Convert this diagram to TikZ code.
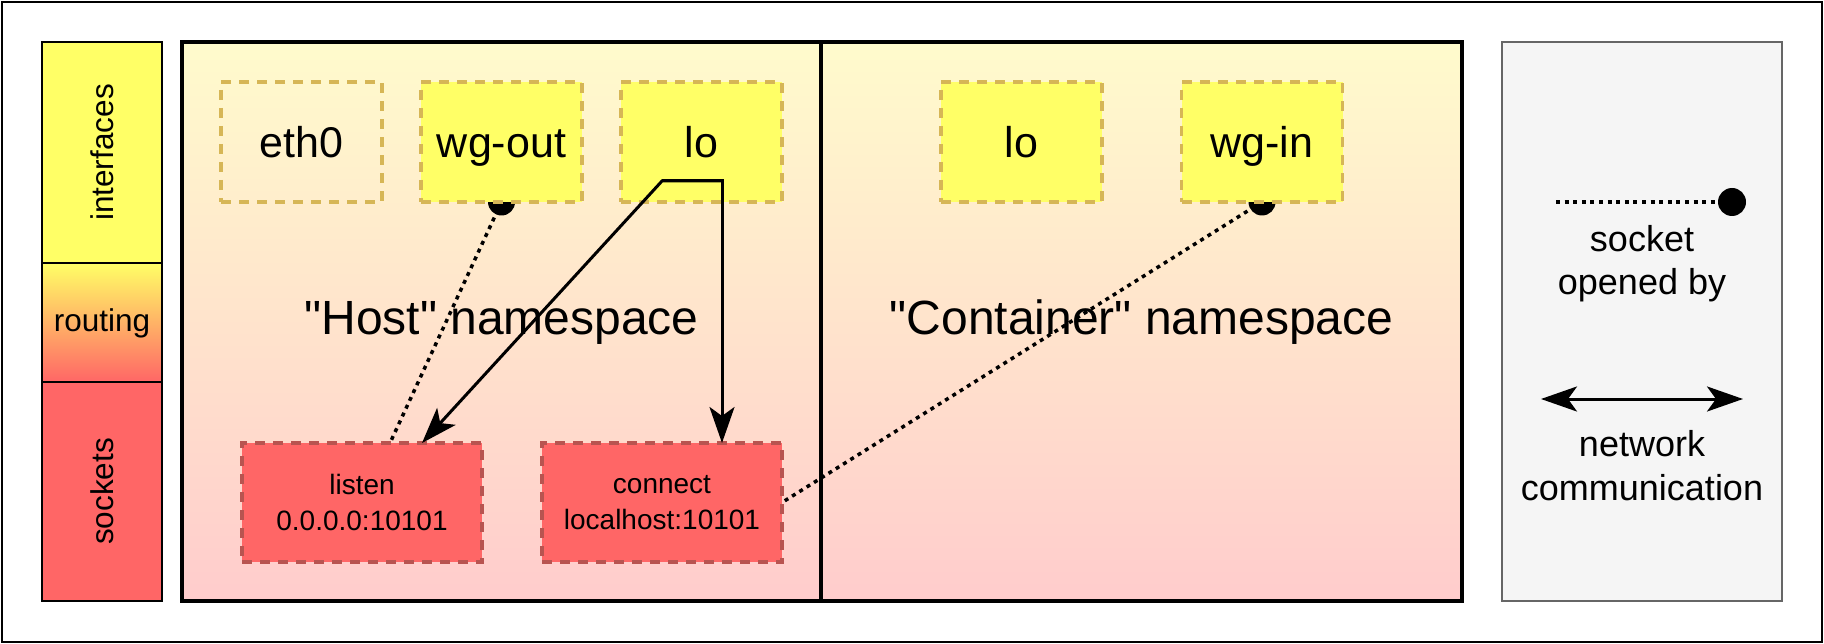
\documentclass[tikz,border=0pt]{standalone}
\usepackage{fontspec}
\setmainfont{Liberation Sans}
\usetikzlibrary{arrows.meta,calc}
\definecolor{ifyellow}{HTML}{FFFF66}
\definecolor{ifstroke}{HTML}{D6B656}
\definecolor{sockred}{HTML}{FF6666}
\definecolor{sockstroke}{HTML}{B85450}
\definecolor{nstop}{HTML}{FFFBCC}
\definecolor{nsbot}{HTML}{FFCCCC}
\definecolor{legfill}{HTML}{F5F5F5}
\definecolor{legstroke}{HTML}{666666}
\newcommand\straightdq{\XeTeXglyph\XeTeXcharglyph34\relax}
\pgfdeclarelayer{bg}
\pgfdeclarelayer{conn}
\pgfdeclarelayer{top}
\pgfsetlayers{bg,conn,main,top}
\begin{document}
\begin{tikzpicture}[x=1pt,y=-1pt,
  cell/.style={draw=black, line width=2pt},
  celllabel/.style={font=\fontsize{31.5}{38}\selectfont, inner sep=0pt},
  nsbox/.style={top color=nstop, bottom color=nsbot, minimum height=559pt, inner sep=0pt, outer sep=0pt},
  nslabel/.style={font=\fontsize{48}{58}\selectfont, anchor=base, inner sep=0pt},
  ifbox/.style={draw=ifstroke, line width=3.5pt, dash pattern=on 10pt off 8pt, minimum width=161pt, minimum height=120pt, inner sep=0pt, outer sep=0pt, font=\fontsize{43}{52}\selectfont, text height=31pt, text depth=0pt},
  sockbox/.style={draw=sockstroke, fill=sockred, line width=3.5pt, dash pattern=on 10pt off 8pt, minimum width=240pt, minimum height=119pt, inner sep=0pt, outer sep=0pt, align=center, font=\fontsize{28}{36}\selectfont},
  sockline/.style={line width=3.5pt, dash pattern=on 4pt off 4.6pt},
  sockdot/.style={circle, fill=black, minimum size=27pt, inner sep=0pt, outer sep=0pt},
  comm/.style={line width=3pt, -{Stealth[length=36pt,width=25pt,inset=9pt]}},
  commboth/.style={line width=3pt, {Stealth[length=36pt,width=25pt,inset=9pt]}-{Stealth[length=36pt,width=25pt,inset=9pt]}},
  legtext/.style={font=\fontsize{36}{43.5}\selectfont, align=center, inner sep=0pt},
]
\useasboundingbox (0,0) rectangle (1824,644);

\begin{pgfonlayer}{bg}
  % outer frame
  \node[draw=black, line width=2.5pt, minimum width=1820pt, minimum height=640pt, inner sep=0pt] (frame) at (912,322) {};
  % left legend column
  \draw[cell, fill=ifyellow] (42,42) rectangle (162,263);
  \shade[top color=ifyellow, bottom color=sockred] (42,263) rectangle (162,382);
  \draw[cell] (42,263) rectangle (162,382);
  \draw[cell, fill=sockred] (42,382) rectangle (162,601);
  \node[celllabel, rotate=90] (lifc) at (102,152.5) {interfaces};
  \node[celllabel, anchor=base] (lrout) at (102,331.5) {routing};
  \node[celllabel, rotate=90] (lsck) at (102,491.5) {sockets};
  % namespaces
  \node[nsbox, minimum width=639pt] (host) at (501.5,321.5) {};
  \node[nsbox, minimum width=641pt] (cont) at (1141.5,321.5) {};
  \draw[line width=3.5pt] (host.north east) -- (host.south east);
  \draw[line width=4.5pt] (host.north west) rectangle (cont.south east);
  \node[nslabel] (hostlbl) at (501.5,335) {\straightdq Host\straightdq{} namespace};
  \node[nslabel] (contlbl) at (1141.5,335) {\straightdq Container\straightdq{} namespace};
  % legend box
  \node[draw=legstroke, fill=legfill, line width=2pt, minimum width=280pt, minimum height=559pt, inner sep=0pt] (legend) at (1642,321.5) {};
  \node[legtext] (legsock) at (1642,263.5) {socket\\opened by};
  \node[legtext] (legnet) at (1642,465.5) {network\\communication};
\end{pgfonlayer}

% interface boxes
\node[ifbox] (eth0) at (301.5,142) {eth0};
\node[ifbox, fill=ifyellow] (wgout) at (501.5,142) {wg-out};
\node[ifbox, fill=ifyellow] (lohost) at (701.5,142) {lo};
\node[ifbox, fill=ifyellow] (locont) at (1021.5,142) {lo};
\node[ifbox, fill=ifyellow] (wgin) at (1262,142) {wg-in};
% socket boxes
\node[sockbox] (listen) at (362,502.5) {listen\\0.0.0.0:10101};
\node[sockbox] (connect) at (662,502.5) {connect\\localhost:10101};

\begin{pgfonlayer}{conn}
  \node[sockdot] (dwgout) at (wgout.south) {};
  \draw[sockline] (dwgout.center) -- ([xshift=148pt]listen.north west);
  \node[sockdot] (dwgin) at (wgin.south) {};
  \draw[sockline] (dwgin.center) -- (connect.east);
  % legend: socket opened by
  \node[sockdot, minimum size=28pt] (legdot) at (1732,202) {};
  \coordinate (legstart) at (1556,202);
  \draw[sockline] (legstart) -- (legdot.center);
  % legend: network communication
  \coordinate (arrL) at (1541,399);
  \coordinate (arrR) at (1743,399);
  \draw[commboth] (arrL) -- (arrR);
\end{pgfonlayer}

\begin{pgfonlayer}{top}
  \coordinate (lox) at ([xshift=20.5pt,yshift=21pt]lohost.south);
  \coordinate (lobend) at ([xshift=-39.5pt,yshift=21pt]lohost.south);
  \draw[comm] (lox) -- (lobend) -- ([xshift=180pt]listen.north west);
  \draw[comm] (lobend) -- (lox) -- ([xshift=180pt]connect.north west);
\end{pgfonlayer}
\end{tikzpicture}
\end{document}
